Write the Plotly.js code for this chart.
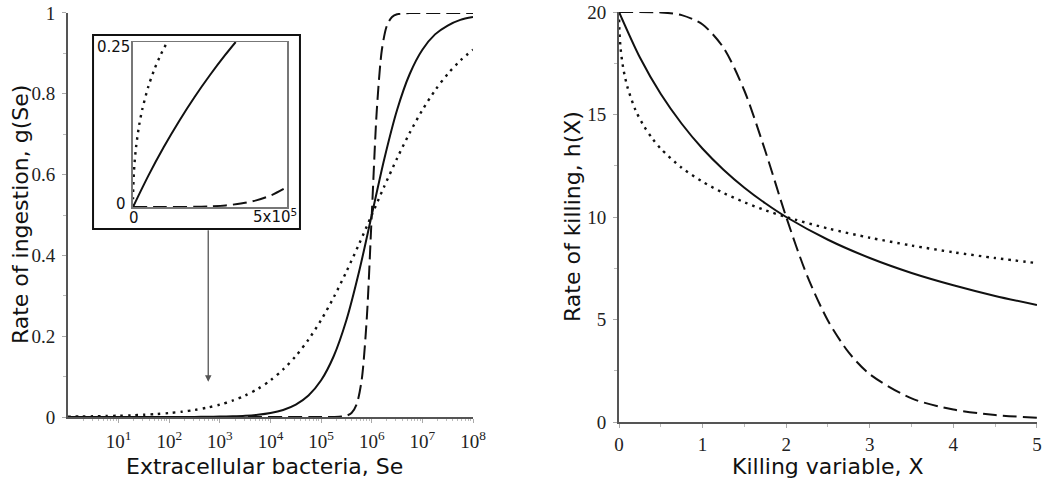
<!DOCTYPE html>
<html><head><meta charset="utf-8">
<script src="https://cdn.plot.ly/plotly-3.0.1.min.js"></script>
<style>html,body{margin:0;padding:0;background:#fff}#chart{width:1043px;height:479px}</style>
</head><body><div id="chart"></div>
<script>
// ---- Left panel: rate of ingestion g(Se) vs extracellular bacteria Se ----
const seGrid = [1,1.778,3.162,5.623, 1e1,1.778e1,3.162e1,5.623e1, 1e2,1.778e2,3.162e2,5.623e2,
  1e3,1.778e3,3.162e3,5.623e3, 1e4,1.778e4,3.162e4,5.623e4, 1e5,1.778e5,3.162e5,5.623e5,
  1e6,1.778e6,3.162e6,5.623e6, 1e7,1.778e7,3.162e7,5.623e7, 1e8];
const gDotted = [0.001,0.00133,0.00178,0.00237, 0.00315,0.0042,0.00559,0.00744,
  0.0099,0.01316,0.01747,0.02316, 0.03065,0.04046,0.05324,0.06976,
  0.0909,0.1177,0.151,0.1917, 0.2402,0.2966,0.3599,0.4285,
  0.5,0.5715,0.6401,0.7034, 0.7598,0.8083,0.849,0.8823, 0.9091];
const gSolid = [0.000001,0.0000018,0.0000032,0.0000056, 0.00001,0.0000178,0.0000316,0.0000562,
  0.0001,0.000178,0.000316,0.000562, 0.000999,0.00178,0.00315,0.00559,
  0.0099,0.0175,0.0307,0.0532, 0.0909,0.151,0.240,0.360,
  0.5,0.640,0.760,0.849, 0.909,0.947,0.969,0.983, 0.990];
const seDashed = [1,1e3,1e5,1.778e5,2.512e5,3.162e5,3.981e5,5.012e5,6.310e5,7.943e5,
  1e6,1.259e6,1.585e6,1.995e6,2.512e6,3.162e6,5.623e6,1e7,1e8];
const gDashed = [0,0,0.00001,0.00018,0.001,0.0032,0.0099,0.0307,0.0909,0.240,
  0.5,0.760,0.909,0.969,0.990,0.9968,0.9998,1,1];
const leftXTickVals = [1e1,1e2,1e3,1e4,1e5,1e6,1e7,1e8];
const leftXTickText = ['10<sup>1</sup>','10<sup>2</sup>','10<sup>3</sup>','10<sup>4</sup>',
  '10<sup>5</sup>','10<sup>6</sup>','10<sup>7</sup>','10<sup>8</sup>'];
const leftYTickVals = [0,0.2,0.4,0.6,0.8,1];
const leftYTickText = ['0','0.2','0.4','0.6','0.8','1'];

// ---- Inset: linear zoom 0..5x10^5 ----
const insetXDotted = [0,200,1000,3000,5000,10000,20000,30000,50000,70000,90000,111100];
const insetYDotted = [0,0.0139,0.0307,0.0519,0.066,0.0909,0.1239,0.1476,0.1827,0.2092,0.2308,0.25];
const insetXSolid = [0,50000,100000,150000,200000,250000,300000,333300];
const insetYSolid = [0,0.0476,0.0909,0.1304,0.1667,0.2,0.2308,0.25];
const insetXDashed = [0,100000,200000,250000,300000,350000,400000,450000,500000];
const insetYDashed = [0,0.00001,0.00032,0.00098,0.00243,0.00525,0.0101,0.0181,0.0303];

// ---- Right panel: rate of killing h(X) vs killing variable X ----
const xDotted = [0,0.005,0.02,0.05,0.1,0.2,0.3,0.4,0.5,0.75,1,1.25,1.5,1.75,2,2.5,3,3.5,4,4.5,5];
const hDotted = [20,19.05,18.18,17.27,16.35,15.19,14.42,13.82,13.33,12.40,11.72,11.17,10.72,10.33,10,9.44,8.99,8.61,8.28,8.00,7.75];
const xSolid = [0,0.25,0.5,0.75,1,1.25,1.5,1.75,2,2.5,3,3.5,4,4.5,5];
const hSolid = [20,17.78,16,14.55,13.33,12.31,11.43,10.67,10,8.89,8,7.27,6.67,6.15,5.71];
const xDashed = [0,0.5,0.75,1,1.25,1.5,1.75,2,2.25,2.5,2.75,3,3.5,4,4.5,5];
const hDashed = [20,19.98,19.85,19.39,18.26,16.16,13.22,10,7.14,4.94,3.38,2.33,1.15,0.606,0.341,0.203];

const INK = '#111';
const DOT = '2.5px,5px';
const DASH = '14px,6px';
const serif = {family:'Liberation Serif', size:19, color:'#222'};
const sans = {family:'DejaVu Sans', size:22, color:'#111'};
const small = {family:'DejaVu Sans', size:15, color:'#111'};

function ln(dash, w){ return {color:INK, width:w, dash:dash, shape:'spline', smoothing:0.8}; }

const traces = [
  {x:seGrid, y:gDotted, xaxis:'x', yaxis:'y', mode:'lines', line:ln(DOT,2.4), cliponaxis:false},
  {x:seGrid, y:gSolid, xaxis:'x', yaxis:'y', mode:'lines', line:ln('solid',2), cliponaxis:false},
  {x:seDashed, y:gDashed, xaxis:'x', yaxis:'y', mode:'lines', line:ln(DASH,2), cliponaxis:false},
  {x:insetXDotted, y:insetYDotted, xaxis:'x3', yaxis:'y3', mode:'lines', line:ln(DOT,2.4)},
  {x:insetXSolid, y:insetYSolid, xaxis:'x3', yaxis:'y3', mode:'lines', line:ln('solid',2)},
  {x:insetXDashed, y:insetYDashed, xaxis:'x3', yaxis:'y3', mode:'lines', line:ln(DASH,2)},
  {x:xDotted, y:hDotted, xaxis:'x2', yaxis:'y2', mode:'lines', line:ln(DOT,2.4), cliponaxis:false},
  {x:xSolid, y:hSolid, xaxis:'x2', yaxis:'y2', mode:'lines', line:ln('solid',2), cliponaxis:false},
  {x:xDashed, y:hDashed, xaxis:'x2', yaxis:'y2', mode:'lines', line:ln(DASH,2), cliponaxis:false}
];

const axBase = {showline:true, linecolor:'#555', linewidth:2, showgrid:false, zeroline:false,
  ticks:'outside', ticklen:4, tickwidth:1, tickcolor:'#aaa', tickfont:serif, fixedrange:true};

const minorTicksLog = [];
for (let d = 0; d < 8; d++) for (let m = 2; m <= 9; m++) minorTicksLog.push(m * Math.pow(10, d));

const layout = {
  width:1043, height:479, margin:{l:0,r:0,t:0,b:0},
  paper_bgcolor:'#fff', plot_bgcolor:'#fff', showlegend:false,
  xaxis:Object.assign({}, axBase, {type:'log', range:[0,8], domain:[0.0652,0.4535], anchor:'y',
    tickmode:'array', tickvals:leftXTickVals, ticktext:leftXTickText, ticklabelstandoff:2,
    minor:{tickmode:'array', tickvals:minorTicksLog, ticklen:2, tickcolor:'#bbb', ticks:'outside'}}),
  yaxis:Object.assign({}, axBase, {range:[0,1], domain:[0.1294,0.9729], anchor:'x',
    tickmode:'array', tickvals:leftYTickVals, ticktext:leftYTickText, ticklabelstandoff:3,
    minor:{dtick:0.1, ticklen:3, tickcolor:'#bbb', ticks:'outside'}}),
  xaxis2:Object.assign({}, axBase, {range:[0,5], domain:[0.5935,0.9942], anchor:'y2', dtick:1,
    ticklabelstandoff:0, minor:{dtick:0.5, ticklen:3, tickcolor:'#bbb', ticks:'outside'}}),
  yaxis2:Object.assign({}, axBase, {range:[0,20], domain:[0.119,0.9749], anchor:'x2', dtick:5,
    ticklabelstandoff:3, minor:{dtick:2.5, ticklen:3, tickcolor:'#bbb', ticks:'outside'}}),
  xaxis3:{range:[0,500000], domain:[0.1275,0.2752], anchor:'y3', showline:true, mirror:true,
    linecolor:'#777', linewidth:1.5, showgrid:false, zeroline:false, ticks:'', showticklabels:false, fixedrange:true},
  yaxis3:{range:[0,0.25], domain:[0.5678,0.9123], anchor:'x3', showline:true, mirror:true,
    linecolor:'#777', linewidth:1.5, showgrid:false, zeroline:false, ticks:'', showticklabels:false, fixedrange:true},
  shapes:[
    {type:'rect', xref:'paper', yref:'paper', x0:0.0892, x1:0.2876, y0:0.5219, y1:0.9269,
     line:{color:'#111', width:2}, fillcolor:'rgba(0,0,0,0)', layer:'above'}
  ],
  annotations:[
    {text:'Rate of ingestion, g(Se)', xref:'paper', yref:'paper', x:0.0192, y:0.551, textangle:-90,
     showarrow:false, font:sans, xanchor:'center', yanchor:'middle'},
    {text:'Extracellular bacteria, Se', xref:'paper', yref:'paper', x:0.254, y:0.027,
     showarrow:false, font:sans, xanchor:'center', yanchor:'middle'},
    {text:'Rate of killing, h(X)', xref:'paper', yref:'paper', x:0.5494, y:0.547, textangle:-90,
     showarrow:false, font:sans, xanchor:'center', yanchor:'middle'},
    {text:'Killing variable, X', xref:'paper', yref:'paper', x:0.794, y:0.026,
     showarrow:false, font:sans, xanchor:'center', yanchor:'middle'},
    // inset labels
    {text:'0.25', xref:'paper', yref:'paper', x:0.1265, y:1-47/479, showarrow:false,
     font:small, xanchor:'right', yanchor:'middle'},
    {text:'0', xref:'paper', yref:'paper', x:0.1225, y:1-204/479, showarrow:false,
     font:small, xanchor:'right', yanchor:'middle'},
    {text:'0', xref:'paper', yref:'paper', x:134/1043, y:1-218/479, showarrow:false,
     font:small, xanchor:'center', yanchor:'middle'},
    {text:'5x10<sup>5</sup>', xref:'paper', yref:'paper', x:299/1043, y:1-216/479, showarrow:false,
     font:small, xanchor:'right', yanchor:'middle'},
    // arrow from inset to region of the main plot
    {text:'', xref:'x', yref:'y', x:2.77, y:0.087, ax:0, ay:-153, axref:'pixel', ayref:'pixel',
     showarrow:true, arrowhead:2, arrowsize:1, arrowwidth:1.3, arrowcolor:'#555', standoff:0}
  ]
};

Plotly.newPlot('chart', traces, layout, {staticPlot:true, displayModeBar:false});
</script>
</body></html>
